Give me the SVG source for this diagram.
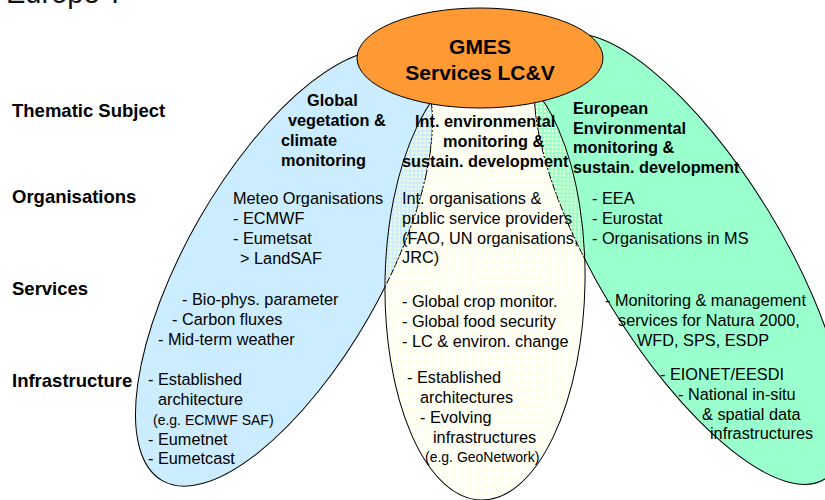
<svg xmlns="http://www.w3.org/2000/svg" width="825" height="500" viewBox="0 0 825 500">
  <defs>
    <pattern id="dots" width="4" height="4" patternUnits="userSpaceOnUse">
      <rect x="1" y="1" width="2" height="2" fill="#FFFFD0"/>
    </pattern>
  </defs>
  <style>
    text { font-family: "Liberation Sans", Arial, sans-serif; fill: #000; }
    .lbl { font-size: 18.5px; font-weight: bold; }
    .hd { font-size: 16.3px; font-weight: bold; }
    .big { font-size: 21px; font-weight: bold; }
    .tx { font-size: 16.3px; }
    .sm { font-size: 14px; }
    .title { font-size: 29px; fill: #111; }
    .edge { stroke: #000; stroke-width: 1; }
  </style>
  <rect width="825" height="500" fill="#fff"/>
  <text class="title" x="6" y="3">Europe ?</text>

  <g id="row-labels">
    <text class="lbl" x="12" y="117">Thematic Subject</text>
    <text class="lbl" x="12" y="203">Organisations</text>
    <text class="lbl" x="12" y="295">Services</text>
    <text class="lbl" x="12" y="387">Infrastructure</text>
  </g>

  <g id="global-vegetation">
    <ellipse class="edge" cx="284" cy="268" rx="245" ry="98" transform="rotate(-60.2 284 268)" fill="#CCECFF"/>
  </g>
  <g id="european-environment">
    <ellipse class="edge" cx="690" cy="259" rx="258" ry="92" transform="rotate(58.6 690 259)" fill="#99FFCC"/>
  </g>
  <g id="int-environment">
    <ellipse class="edge" cx="485" cy="282" rx="100" ry="218" transform="rotate(1 485 282)" fill="url(#dots)"/>
  </g>
  <g id="gmes">
    <ellipse class="edge" cx="480" cy="58" rx="123" ry="50" fill="#FF9933"/>
    <text class="big" x="480" y="54" text-anchor="middle">GMES</text>
    <text class="big" x="480" y="80" text-anchor="middle">Services LC&amp;V</text>
  </g>
  <g id="connectors"/>

  <g id="global-vegetation-text">
    <text class="hd" x="307" y="106">Global</text>
    <text class="hd" x="288" y="126">vegetation &amp;</text>
    <text class="hd" x="281" y="146">climate</text>
    <text class="hd" x="281" y="166">monitoring</text>
    <text class="tx" x="233" y="204">Meteo Organisations</text>
    <text class="tx" x="233" y="224">- ECMWF</text>
    <text class="tx" x="233" y="244">- Eumetsat</text>
    <text class="tx" x="240" y="264">&gt; LandSAF</text>
    <text class="tx" x="182" y="305">- Bio-phys. parameter</text>
    <text class="tx" x="172" y="325">- Carbon fluxes</text>
    <text class="tx" x="158" y="345">- Mid-term weather</text>
    <text class="tx" x="148" y="385">- Established</text>
    <text class="tx" x="158" y="405">architecture</text>
    <text class="sm" x="153" y="425">(e.g. ECMWF SAF)</text>
    <text class="tx" x="148" y="445">- Eumetnet</text>
    <text class="tx" x="148" y="464">- Eumetcast</text>
  </g>

  <g id="int-environment-text">
    <text class="hd" x="415" y="127">Int. environmental</text>
    <text class="hd" x="443" y="147">monitoring &amp;</text>
    <text class="hd" x="402" y="167">sustain. development</text>
    <text class="tx" x="402" y="204">Int. organisations &amp;</text>
    <text class="tx" x="402" y="224">public service providers</text>
    <text class="tx" x="402" y="244">(FAO, UN organisations,</text>
    <text class="tx" x="402" y="263">JRC)</text>
    <text class="tx" x="402" y="307">- Global crop monitor.</text>
    <text class="tx" x="402" y="327">- Global food security</text>
    <text class="tx" x="402" y="347">- LC &amp; environ. change</text>
    <text class="tx" x="407" y="383">- Established</text>
    <text class="tx" x="420" y="403">architectures</text>
    <text class="tx" x="420" y="423">- Evolving</text>
    <text class="tx" x="433" y="443">infrastructures</text>
    <text class="sm" x="425" y="462">(e.g. GeoNetwork)</text>
  </g>

  <g id="european-environment-text">
    <text class="hd" x="573" y="114">European</text>
    <text class="hd" x="573" y="134">Environmental</text>
    <text class="hd" x="573" y="153">monitoring &amp;</text>
    <text class="hd" x="573" y="173">sustain. development</text>
    <text class="tx" x="592" y="204">- EEA</text>
    <text class="tx" x="592" y="224">- Eurostat</text>
    <text class="tx" x="592" y="244">- Organisations in MS</text>
    <text class="tx" x="605" y="306">- Monitoring &amp; management</text>
    <text class="tx" x="618" y="326">services for Natura 2000,</text>
    <text class="tx" x="637" y="346">WFD, SPS, ESDP</text>
    <text class="tx" x="660" y="380">- EIONET/EESDI</text>
    <text class="tx" x="678" y="400">- National in-situ</text>
    <text class="tx" x="702" y="420">&amp; spatial data</text>
    <text class="tx" x="710" y="439">infrastructures</text>
  </g>
</svg>
